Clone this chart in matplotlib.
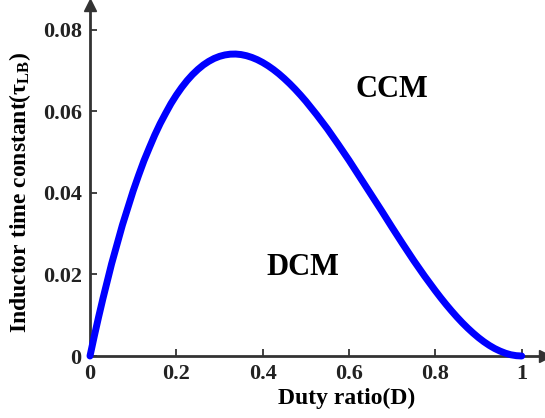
import numpy as np
import matplotlib
matplotlib.use('Agg')
import matplotlib.pyplot as plt

# Boundary curve (duty ratio vs. tau_LB)
duty = [0.0, 0.01, 0.02, 0.03, 0.05, 0.075, 0.1, 0.1125, 0.125, 0.1375, 0.15,
        0.1625, 0.175, 0.1875, 0.2, 0.2125, 0.225, 0.2375, 0.25, 0.2625, 0.275,
        0.2875, 0.3, 0.3125, 0.325, 0.3375, 0.35, 0.3625, 0.375, 0.3875, 0.4,
        0.4125, 0.425, 0.4375, 0.45, 0.4625, 0.475, 0.4875, 0.5, 0.525, 0.55,
        0.575, 0.6, 0.625, 0.65, 0.675, 0.7, 0.725, 0.75, 0.775, 0.8, 0.8125,
        0.825, 0.8375, 0.85, 0.8625, 0.875, 0.8875, 0.9, 0.9125, 0.925, 0.9375,
        0.95, 0.9625, 0.975, 0.9875, 1.0]
tau_lb = [0.0, 0.0049, 0.0096, 0.0141, 0.0226, 0.0321, 0.0405, 0.0443, 0.0479,
          0.0511, 0.0542, 0.0570, 0.0595, 0.0619, 0.0640, 0.06589, 0.06757,
          0.06904, 0.0703, 0.07139, 0.07227, 0.07298, 0.0735, 0.07385, 0.07404,
          0.07407, 0.07394, 0.07366, 0.07324, 0.07269, 0.0720, 0.07119, 0.07026,
          0.06922, 0.06806, 0.06681, 0.06546, 0.06402, 0.0625, 0.0592, 0.0557,
          0.0519, 0.0480, 0.0439, 0.0398, 0.0357, 0.0315, 0.0274, 0.0234, 0.0196,
          0.0160, 0.01428, 0.01263, 0.01106, 0.00956, 0.00815, 0.00684, 0.00562,
          0.0045, 0.00349, 0.0026, 0.00183, 0.0012, 0.00068, 0.0003, 0.00008, 0.0]

xticks = [0, 0.2, 0.4, 0.6, 0.8, 1.0]
xtick_labels = ['0', '0.2', '0.4', '0.6', '0.8', '1']
yticks = [0, 0.02, 0.04, 0.06, 0.08]
ytick_labels = ['0', '0.02', '0.04', '0.06', '0.08']

plt.rcParams['font.family'] = 'Liberation Serif'
plt.rcParams['font.weight'] = 'bold'
plt.rcParams['mathtext.fontset'] = 'custom'
plt.rcParams['mathtext.rm'] = 'Liberation Serif:bold'
plt.rcParams['mathtext.it'] = 'Liberation Serif:bold'
plt.rcParams['mathtext.bf'] = 'Liberation Serif:bold'

axis_col = '#333333'

fig = plt.figure(figsize=(5.45, 4.18), dpi=100)
ax = fig.add_axes([90/545, 62/418, 455/545, 351/418])

ax.plot(duty, tau_lb, color='#0000ff', lw=5, solid_capstyle='round',
        solid_joinstyle='round', clip_on=False, zorder=3)

ax.set_xlim(0, 1.054)
ax.set_ylim(0, 0.0861)

for s in ['top', 'right']:
    ax.spines[s].set_visible(False)
for s in ['left', 'bottom']:
    ax.spines[s].set_color(axis_col)
    ax.spines[s].set_linewidth(2)

# arrow heads at the ends of the axes
ax.plot(1, 0, '>', color=axis_col, ms=9, transform=ax.get_yaxis_transform(), clip_on=False)
ax.plot(0, 1, '^', color=axis_col, ms=9, transform=ax.get_xaxis_transform(), clip_on=False)

ax.set_xticks(xticks)
ax.set_xticklabels(xtick_labels)
ax.set_yticks(yticks)
ax.set_yticklabels(ytick_labels)
ax.tick_params(direction='in', length=5, width=1.3, color=axis_col, labelsize=16,
               labelcolor='#222222')
ax.tick_params(axis='y', pad=6)
ax.tick_params(axis='x', pad=6)

ax.set_xlabel('Duty ratio(D)', fontsize=17, fontweight='bold', va='center')
ax.xaxis.set_label_coords(0.565, -0.12)
ax.set_ylabel(r'Inductor time constant($\mathbf{\tau_{LB}}$)', fontsize=17,
              fontweight='bold', va='center')
ax.yaxis.set_label_coords(-0.154, 0.466)

ax.text(0.699, 0.0653, 'CCM', fontsize=22, fontweight='bold', ha='center', va='center')
ax.text(0.493, 0.0216, 'DCM', fontsize=22, fontweight='bold', ha='center', va='center')

fig.savefig('out.png', dpi=100)
